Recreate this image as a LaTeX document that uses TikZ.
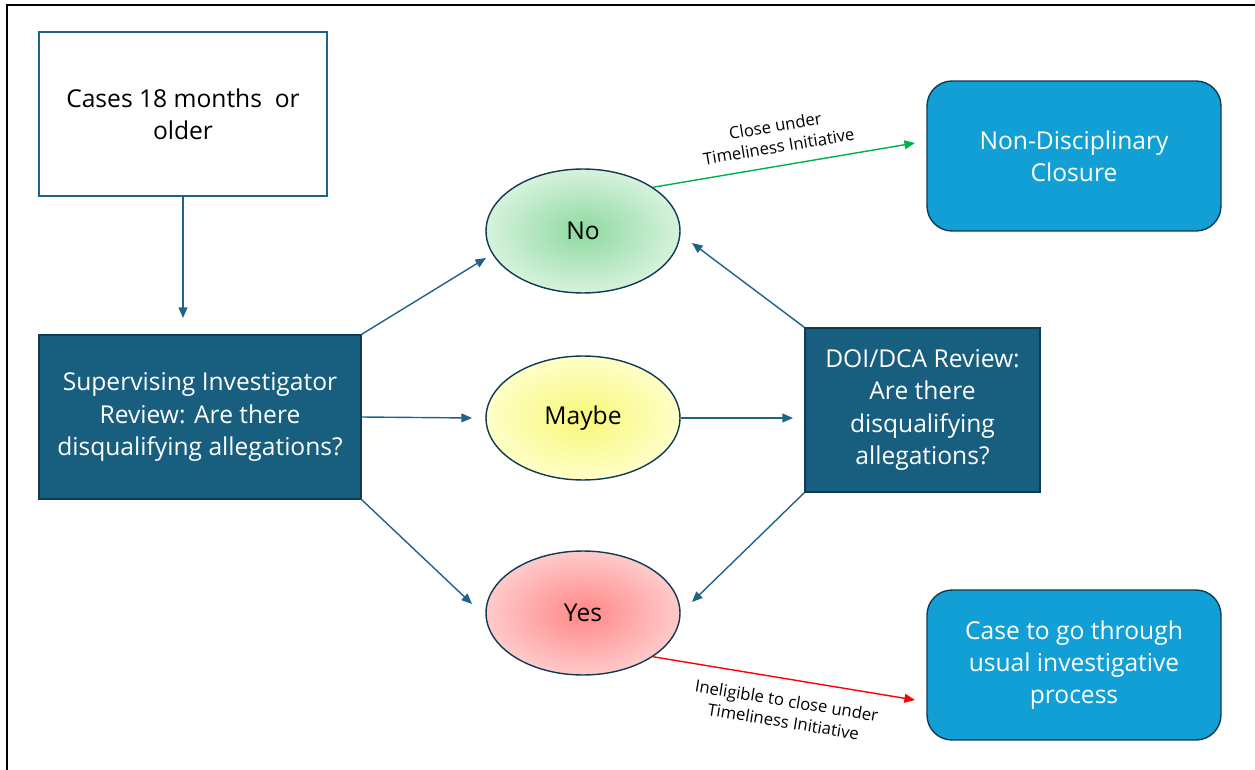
\documentclass[tikz,border=0pt]{standalone}
\usepackage{fontspec}
\setmainfont{Open Sans}
\usetikzlibrary{shapes.geometric,arrows.meta}
\definecolor{darkteal}{RGB}{23,94,127}
\definecolor{skyblue}{RGB}{18,159,213}
\definecolor{edgeblue}{RGB}{14,59,82}
\definecolor{arrowblue}{RGB}{31,100,135}
\definecolor{okgreen}{RGB}{0,176,80}
\tikzset{
  txt/.style={font=\fontsize{14}{18.4}\selectfont, align=center},
  startbox/.style={txt, draw=arrowblue, thick, fill=white, minimum width=5.76cm, minimum height=3.28cm},
  reviewbox/.style={txt, draw=edgeblue, thick, fill=darkteal, text=white, minimum height=3.28cm},
  endbox/.style={txt, draw=edgeblue, thick, fill=skyblue, text=white, rounded corners=0.5cm, minimum width=5.88cm, minimum height=3cm},
  answer/.style={ellipse, draw=edgeblue, thick, minimum width=3.88cm, minimum height=2.48cm, font=\fontsize{14}{16}\selectfont},
  flow/.style={arrowblue, thick, -{Triangle[length=6pt,width=5pt]}},
  note/.style={font=\fontsize{9.5}{12}\selectfont, align=center}
}
\begin{document}
\begin{tikzpicture}[x=0.02cm,y=-0.02cm]
\useasboundingbox (0,0) rectangle (1255,770);
\draw[line width=1.2pt] (7,770) -- (7,5) -- (1255,5);
% boxes
\node[startbox] (cases) at (183,114) {Cases 18 months~ or\\older};
\node[reviewbox, minimum width=6.44cm] (sir) at (200,417) {Supervising Investigator\\Review: Are there\\disqualifying allegations?};
\node[reviewbox, minimum width=4.7cm] (doi) at (922.5,410) {DOI/DCA Review:\\Are there\\disqualifying\\allegations?};
\node[endbox] (ndc) at (1074,156) {Non-Disciplinary\\Closure};
\node[endbox] (usual) at (1074,665) {Case to go through\\usual investigative\\process};
% answers
\node[answer, inner color={rgb,255:red,142;green,217;blue,160}, outer color={rgb,255:red,214;green,242;blue,221}] (no) at (583,231) {No};
\node[answer, inner color={rgb,255:red,247;green,247;blue,120}, outer color={rgb,255:red,255;green,255;blue,200}] (maybe) at (583,418) {Maybe};
\node[answer, inner color={rgb,255:red,255;green,135;blue,135}, outer color={rgb,255:red,255;green,202;blue,202}] (yes) at (583,613) {Yes};
% connectors
\coordinate (down) at (183,318);
\draw[flow] (cases.south) -- (down);
\coordinate (sinoend) at (486,258);
\coordinate (simaybeend) at (472,418);
\coordinate (siyesend) at (472,604);
\draw[flow] (sir.north east) -- (sinoend);
\draw[flow] (sir.east) -- (simaybeend);
\draw[flow] (sir.south east) -- (siyesend);
\coordinate (doinoend) at (692,243);
\coordinate (maybedoiend) at (793,418);
\coordinate (doiyesend) at (692,602);
\draw[flow] (doi.north west) -- (doinoend);
\draw[flow] (maybe.east) -- (maybedoiend);
\draw[flow] (doi.south west) -- (doiyesend);
\coordinate (closeend) at (915,143);
\coordinate (ineligend) at (915,700);
\draw[okgreen, thick, -{Triangle[length=6pt,width=5pt]}] (no.32) -- (closeend);
\draw[red, thick, -{Triangle[length=6pt,width=5pt]}] (yes.-32) -- (ineligend);
\node[note, rotate=9.5] (closelbl) at (777,136) {Close under\\Timeliness Initiative};
\node[note, rotate=-9.3] (ineliglbl) at (785,711) {Ineligible to close under\\Timeliness Initiative};
\end{tikzpicture}
\end{document}
